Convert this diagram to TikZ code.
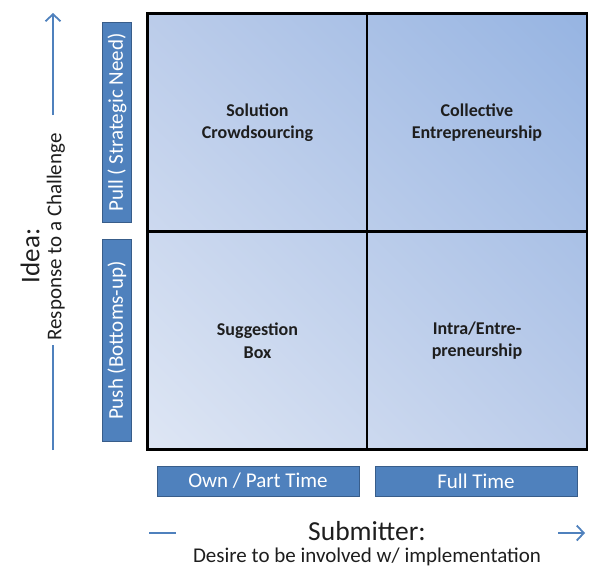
\documentclass[tikz,border=0pt]{standalone}
\usepackage{fontspec}
\setmainfont{Carlito}
\usetikzlibrary{positioning, shadings, arrows.meta}
\definecolor{tagblue}{RGB}{79,129,189}
\definecolor{tagedge}{RGB}{56,93,138}
\definecolor{quadlight}{RGB}{222,230,244}
\definecolor{quadmid}{RGB}{187,204,234}
\definecolor{quaddark}{RGB}{150,180,226}
\definecolor{labelgrey}{RGB}{30,30,30}

\begin{document}
\begin{tikzpicture}[x=1pt,y=-1pt,
    quad/.style={draw=black, line width=1.2pt, minimum width=219pt,
        minimum height=217pt, align=center, text=labelgrey,
        font=\fontsize{18}{22.5}\selectfont\bfseries},
    tag/.style={draw=tagedge, fill=tagblue, line width=1pt, text=white,
        inner sep=0pt, font=\fontsize{21}{24}\selectfont},
    axisline/.style={draw=tagblue, line width=1.8pt},
    axistip/.style={-{Straight Barb[length=7pt,width=15pt]}}]
    \useasboundingbox (0,0) rectangle (599,579);

    \shade[lower left=quadlight, upper right=quaddark,
        upper left=quadmid, lower right=quadmid] (148,449) rectangle (587,14);

    \node[quad] (solution) at (257.5,122.5) {Solution\\Crowdsourcing};
    \node[quad] (collective) at (477,122.5) {Collective\\Entrepreneurship};
    \node[quad] (suggestion) at (257.5,340.5) {Suggestion\\Box};
    \node[quad] (intra) at (477,340.5) {Intra/Entre-\\preneurship};
    \draw[line width=2.4pt] (solution.north west) rectangle (intra.south east);

    \node[
        tag,
        rotate=90,
        minimum width=200pt,
        minimum height=29pt] (pull) at (117,122.5) {Pull ( Strategic Need)};
    \node[
        tag,
        rotate=90,
        minimum width=202pt,
        minimum height=29pt] (push) at (117,340.5) {Push (Bottoms-up)};
    \node[
        tag,
        minimum width=202pt,
        minimum height=30pt] (parttime) at (258,481) {Own / Part Time};
    \node[
        tag,
        minimum width=202pt,
        minimum height=30pt] (fulltime) at (476,481) {Full Time};

    \node[rotate=90, font=\fontsize{27}{30}\selectfont, text=labelgrey]
        (idea) at (30,256) {Idea:};
    \node[rotate=90, font=\fontsize{21}{24}\selectfont, text=labelgrey]
        (response) at (56,237) {Response to a Challenge};
    \node[font=\fontsize{27.5}{30}\selectfont, text=labelgrey]
        (submitter) at (367,531) {Submitter:};
    \node[font=\fontsize{21}{24}\selectfont, text=labelgrey]
        (desire) at (367,557) {Desire to be involved w/ implementation};

    \coordinate (ytop) at (53,13);
    \coordinate (yup) at (53,115);
    \coordinate (ydown) at (53,345);
    \coordinate (ybottom) at (53,450);
    \coordinate (xleft) at (149,533);
    \coordinate (xleftend) at (176,533);
    \coordinate (xright) at (558,533);
    \coordinate (xrightend) at (585,533);

    \draw[axisline, axistip] (yup) -- (ytop);
    \draw[axisline] (ybottom) -- (ydown);
    \draw[axisline] (xleft) -- (xleftend);
    \draw[axisline, axistip] (xright) -- (xrightend);
\end{tikzpicture}
\end{document}
